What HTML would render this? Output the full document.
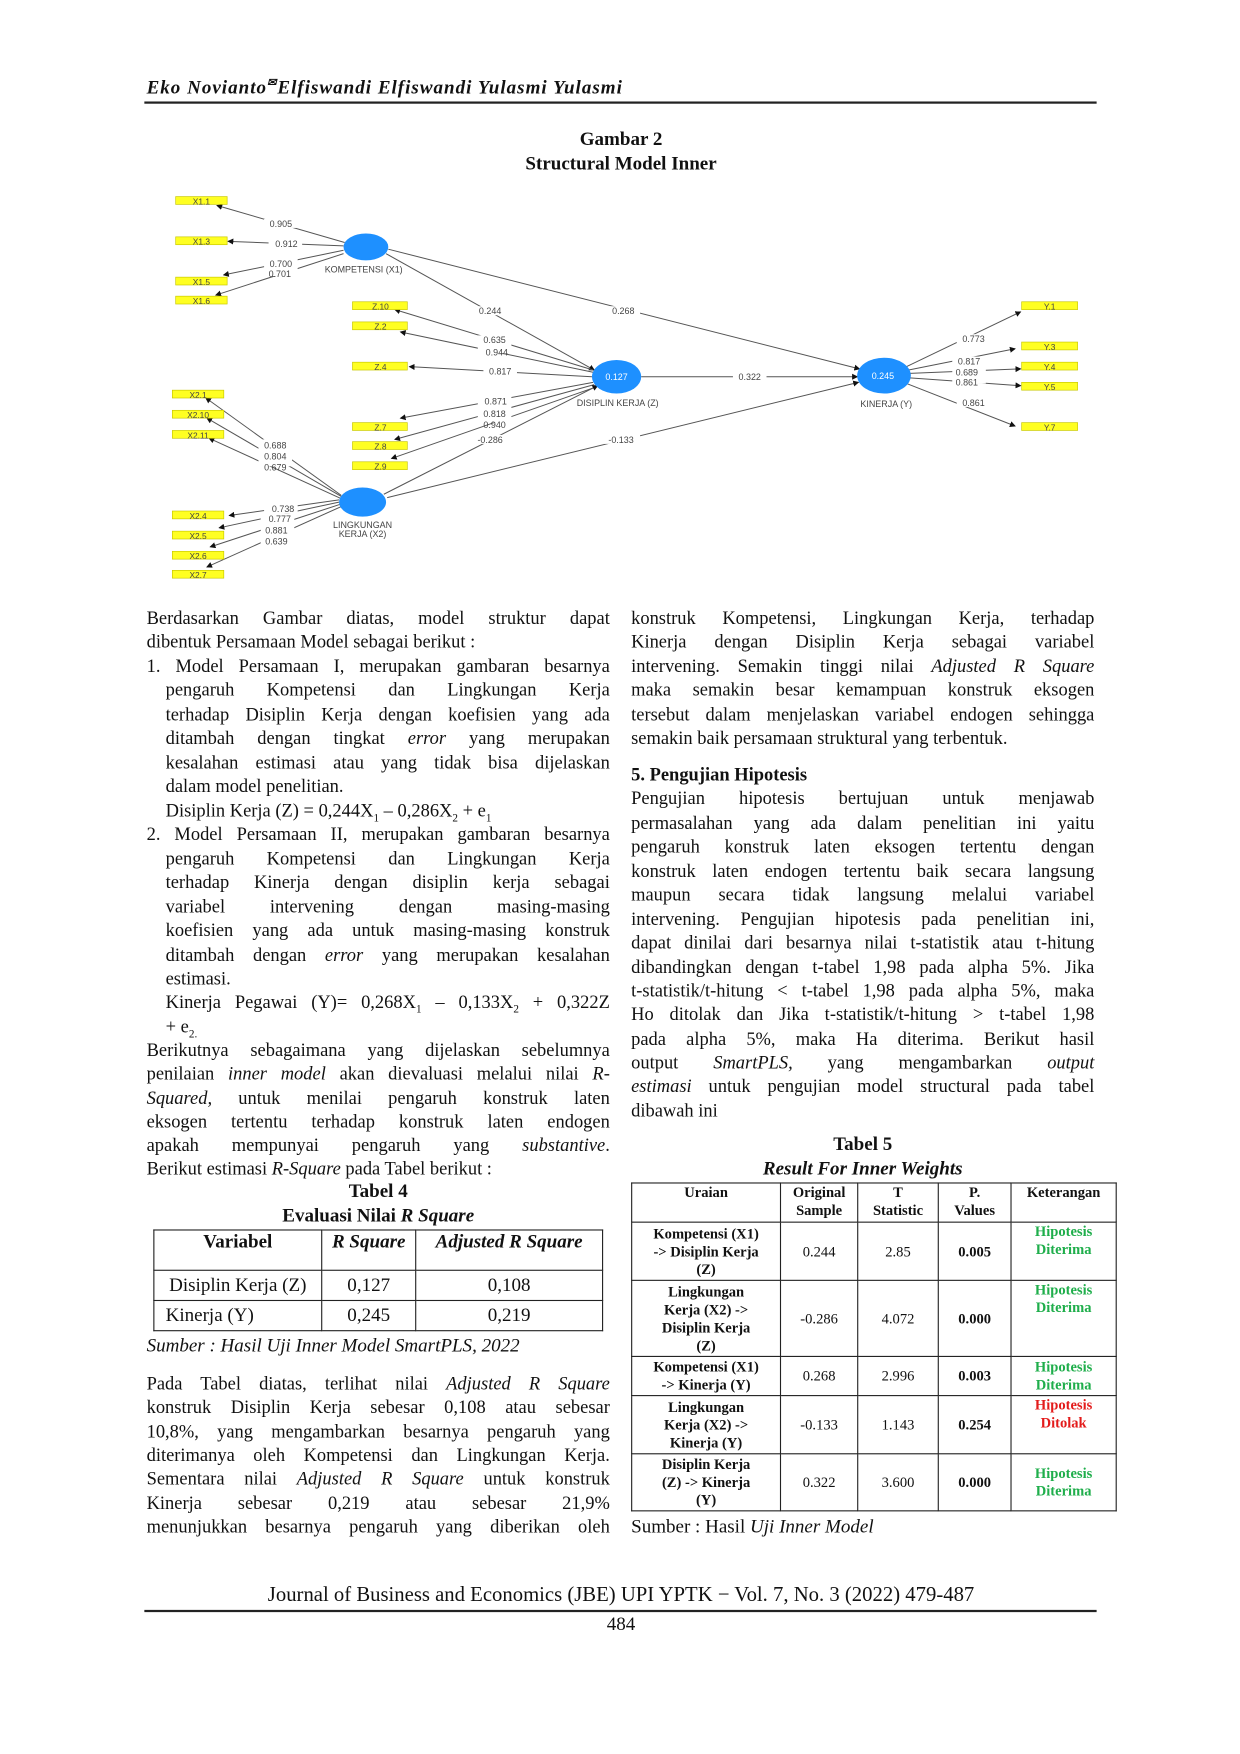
<!DOCTYPE html>
<html><head><meta charset="utf-8">
<style>
html,body{margin:0;padding:0;background:#fff;}
body{width:1240px;height:1754px;overflow:hidden;position:relative;}
#w{position:absolute;left:0;top:3px;width:1103px;height:1560px;transform:scale(1.1190);transform-origin:0 0;font-family:"Liberation Serif",serif;color:#111;}
.a{position:absolute;white-space:nowrap;}
.L,.R,.Li,.Ri{position:absolute;font-size:16.5px;line-height:21px;height:21px;text-align:justify;text-align-last:justify;overflow:visible;}
.L{left:131px;width:414px}
.Li{left:148px;width:397px}
.R{left:564px;width:414px}
.nl{text-align-last:left}
.c{text-align:center;}
table{border-collapse:collapse;position:absolute;table-layout:fixed;}
td{border:1px solid #222;padding:0;text-align:center;}
.t5 td{font-size:13px;line-height:16px;}
.g{color:#1fae4b;font-weight:bold}
.r{color:#e31b1b;font-weight:bold}
</style></head><body><div id="w">
<div class="a" style="left:131px;top:66px;font-size:17px;letter-spacing:0.9px;font-weight:bold;font-style:italic">Eko Novianto<sup style="font-size:10px">✉</sup>Elfiswandi Elfiswandi Yulasmi Yulasmi</div>
<div class="a" style="left:129px;top:88px;width:851px;height:2px;background:#222"></div>
<div class="a c" style="left:355px;width:400px;top:112px;font-size:17px;font-weight:bold">Gambar 2</div>
<div class="a c" style="left:355px;width:400px;top:134px;font-size:17px;font-weight:bold">Structural Model Inner</div>

<svg class="a" style="left:0;top:0" width="1103" height="540" viewBox="0 0 1103 540">
<defs><marker id="m" markerWidth="6" markerHeight="6" refX="5" refY="3" orient="auto"><path d="M0,0 L6,3 L0,6z" fill="#111"/></marker></defs>
<g stroke="#555" stroke-width="0.9" fill="none" marker-end="url(#m)">
<line x1="308" y1="214" x2="194" y2="181"/>
<line x1="307" y1="217" x2="204" y2="213"/>
<line x1="307" y1="221" x2="200" y2="243"/>
<line x1="307" y1="224" x2="193" y2="261"/>
<line x1="345" y1="224" x2="531" y2="328"/>
<line x1="347" y1="220" x2="768" y2="327"/>
<line x1="530" y1="328" x2="353" y2="274"/>
<line x1="530" y1="330" x2="358" y2="294"/>
<line x1="529" y1="334" x2="366" y2="325"/>
<line x1="530" y1="339" x2="358" y2="371"/>
<line x1="531" y1="341" x2="353" y2="390"/>
<line x1="533" y1="343" x2="350" y2="407"/>
<line x1="573" y1="334" x2="766" y2="334"/>
<line x1="343" y1="439" x2="534" y2="342"/>
<line x1="346" y1="442" x2="767" y2="339"/>
<line x1="305" y1="440" x2="184" y2="353"/>
<line x1="305" y1="441" x2="185" y2="371"/>
<line x1="305" y1="443" x2="187" y2="389"/>
<line x1="303" y1="444" x2="205" y2="458"/>
<line x1="303" y1="446" x2="196" y2="469"/>
<line x1="304" y1="448" x2="188" y2="486"/>
<line x1="305" y1="450" x2="185" y2="504"/>
<line x1="810" y1="325" x2="912" y2="276"/>
<line x1="812" y1="328" x2="907" y2="309"/>
<line x1="813" y1="331" x2="912" y2="327"/>
<line x1="813" y1="335" x2="912" y2="342"/>
<line x1="810" y1="340" x2="907" y2="378"/>
</g>
<g fill="#1e90ff">
<ellipse cx="327" cy="218" rx="20" ry="12"/>
<ellipse cx="551" cy="334" rx="22" ry="15"/>
<ellipse cx="790" cy="333" rx="24" ry="16"/>
<ellipse cx="324" cy="446" rx="21" ry="13"/>
</g>
<g fill="#ffff22" stroke="#c8c800" stroke-width="0.6">
<rect x="157" y="173" width="46" height="7"/><rect x="157" y="209" width="46" height="7"/><rect x="157" y="245" width="46" height="7"/><rect x="157" y="262" width="46" height="7"/>
<rect x="315" y="267" width="49" height="7"/><rect x="315" y="285" width="49" height="7"/><rect x="315" y="321" width="49" height="7"/>
<rect x="315" y="375" width="49" height="7"/><rect x="315" y="392" width="49" height="7"/><rect x="315" y="410" width="49" height="7"/>
<rect x="154" y="346" width="46" height="7"/><rect x="154" y="364" width="46" height="7"/><rect x="154" y="382" width="46" height="7"/>
<rect x="154" y="454" width="46" height="7"/><rect x="154" y="472" width="46" height="7"/><rect x="154" y="490" width="46" height="7"/><rect x="154" y="507" width="46" height="7"/>
<rect x="913" y="267" width="50" height="7"/><rect x="913" y="303" width="50" height="7"/><rect x="913" y="321" width="50" height="7"/><rect x="913" y="339" width="50" height="7"/><rect x="913" y="375" width="50" height="7"/>
</g>
<g font-family="Liberation Sans,sans-serif" font-size="7.5" fill="#444" text-anchor="middle">
<text x="180" y="180">X1.1</text><text x="180" y="216">X1.3</text><text x="180" y="252">X1.5</text><text x="180" y="269">X1.6</text>
<text x="340" y="274">Z.10</text><text x="340" y="292">Z.2</text><text x="340" y="328">Z.4</text>
<text x="340" y="382">Z.7</text><text x="340" y="399">Z.8</text><text x="340" y="417">Z.9</text>
<text x="177" y="353">X2.1</text><text x="177" y="371">X2.10</text><text x="177" y="389">X2.11</text>
<text x="177" y="461">X2.4</text><text x="177" y="479">X2.5</text><text x="177" y="497">X2.6</text><text x="177" y="514">X2.7</text>
<text x="938" y="274">Y.1</text><text x="938" y="310">Y.3</text><text x="938" y="328">Y.4</text><text x="938" y="346">Y.5</text><text x="938" y="382">Y.7</text>
</g>
<g font-family="Liberation Sans,sans-serif" font-size="8" fill="#444" text-anchor="middle">
<g fill="#fff"><rect x="236" y="193" width="30" height="8"/><rect x="240" y="211" width="30" height="8"/><rect x="236" y="228" width="30" height="16"/><rect x="423" y="271" width="30" height="8"/><rect x="542" y="271" width="30" height="8"/><rect x="427" y="297" width="30" height="16"/><rect x="432" y="325" width="30" height="8"/><rect x="427" y="351" width="30" height="24"/><rect x="422" y="386" width="32" height="8"/><rect x="538" y="386" width="34" height="8"/><rect x="655" y="330" width="30" height="8"/><rect x="231" y="390" width="30" height="24"/><rect x="236" y="448" width="30" height="8"/><rect x="233" y="456" width="30" height="32"/><rect x="855" y="296" width="30" height="8"/><rect x="851" y="316" width="30" height="24"/><rect x="855" y="353" width="30" height="8"/></g>
<text x="251" y="200">0.905</text><text x="256" y="218">0.912</text><text x="251" y="236">0.700</text><text x="250" y="245">0.701</text>
<text x="325" y="241">KOMPETENSI (X1)</text>
<text x="438" y="278">0.244</text><text x="557" y="278">0.268</text>
<text x="442" y="304">0.635</text><text x="444" y="315">0.944</text><text x="447" y="332">0.817</text>
<text x="443" y="359">0.871</text><text x="442" y="370">0.818</text><text x="442" y="380">0.940</text><text x="438" y="393">-0.286</text>
<text x="555" y="393">-0.133</text><text x="551" y="337" fill="#fff">0.127</text><text x="552" y="360">DISIPLIN KERJA (Z)</text>
<text x="670" y="337">0.322</text>
<text x="789" y="336" fill="#fff">0.245</text><text x="792" y="361">KINERJA (Y)</text>
<text x="246" y="398">0.688</text><text x="246" y="408">0.804</text><text x="246" y="418">0.679</text>
<text x="253" y="455">0.738</text><text x="250" y="464">0.777</text><text x="247" y="474">0.881</text><text x="247" y="484">0.639</text>
<text x="324" y="469">LINGKUNGAN</text><text x="324" y="477">KERJA (X2)</text>
<text x="870" y="303">0.773</text><text x="866" y="323">0.817</text><text x="864" y="333">0.689</text><text x="864" y="342">0.861</text><text x="870" y="360">0.861</text>
</g>
</svg>

<div class="L" style="top:539px">Berdasarkan Gambar diatas, model struktur dapat</div>
<div class="L nl" style="top:560px">dibentuk Persamaan Model sebagai berikut :</div>
<div class="L" style="top:582px">1. Model Persamaan I, merupakan gambaran besarnya</div>
<div class="Li" style="top:603px">pengaruh Kompetensi dan Lingkungan Kerja</div>
<div class="Li" style="top:625px">terhadap Disiplin Kerja dengan koefisien yang ada</div>
<div class="Li" style="top:646px">ditambah dengan tingkat <i>error</i> yang merupakan</div>
<div class="Li" style="top:668px">kesalahan estimasi atau yang tidak bisa dijelaskan</div>
<div class="Li nl" style="top:689px">dalam model penelitian.</div>
<div class="Li nl" style="top:711px">Disiplin Kerja (Z) = 0,244X<sub style="font-size:10px">1</sub> – 0,286X<sub style="font-size:10px">2</sub> + e<sub style="font-size:10px">1</sub></div>
<div class="L" style="top:732px">2. Model Persamaan II, merupakan gambaran besarnya</div>
<div class="Li" style="top:754px">pengaruh Kompetensi dan Lingkungan Kerja</div>
<div class="Li" style="top:775px">terhadap Kinerja dengan disiplin kerja sebagai</div>
<div class="Li" style="top:797px">variabel intervening dengan masing-masing</div>
<div class="Li" style="top:818px">koefisien yang ada untuk masing-masing konstruk</div>
<div class="Li" style="top:840px">ditambah dengan <i>error</i> yang merupakan kesalahan</div>
<div class="Li nl" style="top:861px">estimasi.</div>
<div class="Li" style="top:882px">Kinerja Pegawai (Y)= 0,268X<sub style="font-size:10px">1</sub> – 0,133X<sub style="font-size:10px">2</sub> + 0,322Z</div>
<div class="Li nl" style="top:904px">+ e<sub style="font-size:10px">2.</sub></div>
<div class="L" style="top:925px">Berikutnya sebagaimana yang dijelaskan sebelumnya</div>
<div class="L" style="top:946px">penilaian <i>inner model</i> akan dievaluasi melalui nilai <i>R-</i></div>
<div class="L" style="top:968px"><i>Squared,</i> untuk menilai pengaruh konstruk laten</div>
<div class="L" style="top:989px">eksogen tertentu terhadap konstruk laten endogen</div>
<div class="L" style="top:1010px">apakah mempunyai pengaruh yang <i>substantive</i>.</div>
<div class="L nl" style="top:1031px">Berikut estimasi <i>R-Square</i> pada Tabel berikut :</div>
<div class="a c" style="left:137px;width:402px;top:1052px;font-size:17px;font-weight:bold">Tabel 4</div>
<div class="a c" style="left:137px;width:402px;top:1074px;font-size:17px;font-weight:bold">Evaluasi Nilai <i>R Square</i></div>
<table style="left:137px;top:1096px;width:402px;font-size:17px;border:1.5px solid #222">
<tr style="height:36px"><td style="width:149px;vertical-align:top;font-weight:bold">Variabel</td><td style="width:83px;vertical-align:top;font-weight:bold;font-style:italic">R Square</td><td style="vertical-align:top;font-weight:bold;font-style:italic">Adjusted R Square</td></tr>
<tr style="height:27px"><td>Disiplin Kerja (Z)</td><td>0,127</td><td>0,108</td></tr>
<tr style="height:27px"><td style="text-align:left;padding-left:10px">Kinerja (Y)</td><td>0,245</td><td>0,219</td></tr>
</table>
<div class="a" style="left:131px;top:1190px;font-size:17px;font-style:italic">Sumber : Hasil Uji Inner Model SmartPLS, 2022</div>
<div class="L" style="top:1223px">Pada Tabel diatas, terlihat nilai <i>Adjusted R Square</i></div>
<div class="L" style="top:1244px">konstruk Disiplin Kerja sebesar 0,108 atau sebesar</div>
<div class="L" style="top:1266px">10,8%, yang mengambarkan besarnya pengaruh yang</div>
<div class="L" style="top:1287px">diterimanya oleh Kompetensi dan Lingkungan Kerja.</div>
<div class="L" style="top:1308px">Sementara nilai <i>Adjusted R Square</i> untuk konstruk</div>
<div class="L" style="top:1330px">Kinerja sebesar 0,219 atau sebesar 21,9%</div>
<div class="L" style="top:1351px">menunjukkan besarnya pengaruh yang diberikan oleh</div>

<div class="R" style="top:539px">konstruk Kompetensi, Lingkungan Kerja, terhadap</div>
<div class="R" style="top:560px">Kinerja dengan Disiplin Kerja sebagai variabel</div>
<div class="R" style="top:582px">intervening. Semakin tinggi nilai <i>Adjusted R Square</i></div>
<div class="R" style="top:603px">maka semakin besar kemampuan konstruk eksogen</div>
<div class="R" style="top:625px">tersebut dalam menjelaskan variabel endogen sehingga</div>
<div class="R nl" style="top:646px">semakin baik persamaan struktural yang terbentuk.</div>
<div class="R nl" style="top:679px;font-weight:bold">5. Pengujian Hipotesis</div>
<div class="R" style="top:700px">Pengujian hipotesis bertujuan untuk menjawab</div>
<div class="R" style="top:722px">permasalahan yang ada dalam penelitian ini yaitu</div>
<div class="R" style="top:743px">pengaruh konstruk laten eksogen tertentu dengan</div>
<div class="R" style="top:765px">konstruk laten endogen tertentu baik secara langsung</div>
<div class="R" style="top:786px">maupun secara tidak langsung melalui variabel</div>
<div class="R" style="top:808px">intervening. Pengujian hipotesis pada penelitian ini,</div>
<div class="R" style="top:829px">dapat dinilai dari besarnya nilai t-statistik atau t-hitung</div>
<div class="R" style="top:851px">dibandingkan dengan t-tabel 1,98 pada alpha 5%. Jika</div>
<div class="R" style="top:872px">t-statistik/t-hitung &lt; t-tabel 1,98 pada alpha 5%, maka</div>
<div class="R" style="top:893px">Ho ditolak dan Jika t-statistik/t-hitung &gt; t-tabel 1,98</div>
<div class="R" style="top:915px">pada alpha 5%, maka Ha diterima. Berikut hasil</div>
<div class="R" style="top:936px">output <i>SmartPLS,</i> yang mengambarkan <i>output</i></div>
<div class="R" style="top:957px"><i>estimasi</i> untuk pengujian model structural pada tabel</div>
<div class="R nl" style="top:979px">dibawah ini</div>
<div class="a c" style="left:564px;width:414px;top:1010px;font-size:17px;font-weight:bold">Tabel 5</div>
<div class="a c" style="left:564px;width:414px;top:1032px;font-size:17px;font-weight:bold;font-style:italic">Result For Inner Weights</div>
<table class="t5" style="left:564px;top:1054px;width:434px;border:1.5px solid #222">
<tr style="height:35px;font-weight:bold"><td style="width:132px;vertical-align:top;font-weight:bold">Uraian</td><td style="width:68px;vertical-align:top;font-weight:bold">Original<br>Sample</td><td style="width:71px;vertical-align:top;font-weight:bold">T<br>Statistic</td><td style="width:64px;vertical-align:top;font-weight:bold">P.<br>Values</td><td style="vertical-align:top;font-weight:bold">Keterangan</td></tr>
<tr style="height:52px"><td style="font-weight:bold">Kompetensi (X1)<br>-&gt; Disiplin Kerja<br>(Z)</td><td>0.244</td><td>2.85</td><td style="font-weight:bold">0.005</td><td style="vertical-align:top"><span class="g">Hipotesis<br>Diterima</span></td></tr>
<tr style="height:68px"><td style="font-weight:bold">Lingkungan<br>Kerja (X2) -&gt;<br>Disiplin Kerja<br>(Z)</td><td>-0.286</td><td>4.072</td><td style="font-weight:bold">0.000</td><td style="vertical-align:top"><span class="g">Hipotesis<br>Diterima</span></td></tr>
<tr style="height:35px"><td style="font-weight:bold">Kompetensi (X1)<br>-&gt; Kinerja (Y)</td><td>0.268</td><td>2.996</td><td style="font-weight:bold">0.003</td><td><span class="g">Hipotesis<br>Diterima</span></td></tr>
<tr style="height:52px"><td style="font-weight:bold">Lingkungan<br>Kerja (X2) -&gt;<br>Kinerja (Y)</td><td>-0.133</td><td>1.143</td><td style="font-weight:bold">0.254</td><td style="vertical-align:top"><span class="r">Hipotesis<br>Ditolak</span></td></tr>
<tr style="height:51px"><td style="font-weight:bold">Disiplin Kerja<br>(Z) -&gt; Kinerja<br>(Y)</td><td>0.322</td><td>3.600</td><td style="font-weight:bold">0.000</td><td><span class="g">Hipotesis<br>Diterima</span></td></tr>
</table>
<div class="a" style="left:564px;top:1352px;font-size:17px">Sumber : Hasil <i>Uji Inner Model</i></div>

<div class="a c" style="left:155px;width:800px;top:1413px;font-size:18.5px">Journal of Business and Economics (JBE) UPI YPTK − Vol. 7, No. 3 (2022) 479-487</div>
<div class="a" style="left:129px;top:1436px;width:851px;height:1.5px;background:#222"></div>
<div class="a c" style="left:505px;width:100px;top:1439px;font-size:17px">484</div>
</div></body></html>
